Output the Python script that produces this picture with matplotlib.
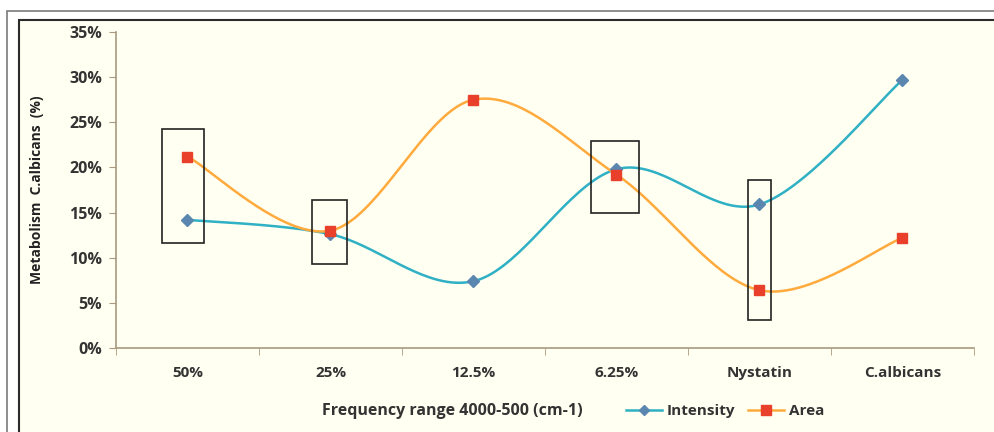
import numpy as np
import matplotlib
matplotlib.use("Agg")
import matplotlib.pyplot as plt
from matplotlib.patches import Rectangle
from matplotlib.lines import Line2D

categories = ["50%", "25%", "12.5%", "6.25%", "Nystatin", "C.albicans"]
intensity = [14.2, 12.6, 7.4, 19.8, 15.9, 29.7]
area = [21.2, 13.0, 27.5, 19.2, 6.4, 12.2]
y_ticks = [0, 5, 10, 15, 20, 25, 30, 35]

# highlight boxes: (category index, left offset, right offset, y-low, y-high)
boxes = [(0, -0.175, 0.112, 11.6, 24.3),
         (1, -0.126, 0.112, 9.3, 16.4),
         (3, -0.18, 0.16, 15.0, 22.9),
         (4, -0.077, 0.077, 3.1, 18.6)]


def smooth(xs, ys, n=40):
    xs = np.asarray(xs, float); ys = np.asarray(ys, float)
    px = np.concatenate([[xs[0]], xs, [xs[-1]]])
    py = np.concatenate([[ys[0]], ys, [ys[-1]]])
    ox, oy = [], []
    t = np.linspace(0, 1, n)
    for i in range(1, len(px) - 2):
        p0 = np.array([px[i], py[i]]); p3 = np.array([px[i + 1], py[i + 1]])
        c1 = p0 + (np.array([px[i + 1], py[i + 1]]) - np.array([px[i - 1], py[i - 1]])) / 6
        c2 = p3 - (np.array([px[i + 2], py[i + 2]]) - np.array([px[i], py[i]])) / 6
        b = ((1 - t) ** 3)[:, None] * p0 + (3 * (1 - t) ** 2 * t)[:, None] * c1 + \
            (3 * (1 - t) * t ** 2)[:, None] * c2 + (t ** 3)[:, None] * p3
        ox.extend(b[:, 0]); oy.extend(b[:, 1])
    return np.array(ox), np.array(oy)


fig = plt.figure(figsize=(9.95, 4.32), dpi=100)
fig.patch.set_facecolor("white")
W, H = 995, 432
# outer and inner frames
fig.add_artist(Rectangle((7 / W, -0.01), 1.0, (432 - 11) / H + 0.01, transform=fig.transFigure,
                         facecolor="white", edgecolor="#7a7a7a", lw=1.2, zorder=-2))
fig.add_artist(Rectangle((19 / W, -0.01), 1.0, (432 - 20) / H + 0.01, transform=fig.transFigure,
                         facecolor="#FFFFF2", edgecolor="#2b2b2b", lw=1.5, zorder=-1))

ax = fig.add_axes([116 / W, 1 - 348 / H, (974 - 116) / W, (348 - 32) / H])
ax.set_facecolor("none")
x = np.arange(len(categories))
spine_c = "#A89A80"

sx, sy = smooth(x, intensity)
ax.plot(sx, sy, color="#2FB0C4", lw=1.8, zorder=3)
ax.plot(x, intensity, ls="none", marker="D", ms=6, color="#5A86B0", zorder=4)
sx, sy = smooth(x, area)
ax.plot(sx, sy, color="#FFAA3C", lw=1.8, zorder=3)
ax.plot(x, area, ls="none", marker="s", ms=7.5, color="#E8402A", zorder=5)

for ci, dl, dr, yl, yh in boxes:
    ax.add_patch(Rectangle((ci + dl, yl), dr - dl, yh - yl, fill=False,
                           edgecolor="#222222", lw=1.2, zorder=6))

ax.set_xlim(-0.5, len(categories) - 0.5)
ax.set_ylim(0, 35)
ax.set_yticks(y_ticks)
ax.set_yticklabels([f"{v}%" for v in y_ticks])
ax.set_xticks(x)
ax.set_xticklabels(categories)
ax.set_xticks(np.arange(-0.5, len(categories)), minor=True)
ax.tick_params(axis="x", which="major", length=0, pad=13)
ax.tick_params(axis="x", which="minor", length=5, color=spine_c, direction="out")
ax.tick_params(axis="y", length=5, color=spine_c, direction="out", pad=5)
for lab in ax.get_xticklabels():
    lab.set_fontweight("bold"); lab.set_fontsize(11); lab.set_color("#333333")
    lab.set_family("Open Sans")
for lab in ax.get_yticklabels():
    lab.set_fontweight("bold"); lab.set_fontsize(11.5); lab.set_color("#333333")
    lab.set_family("Open Sans")
for s in ["top", "right"]:
    ax.spines[s].set_visible(False)
for s in ["left", "bottom"]:
    ax.spines[s].set_color(spine_c); ax.spines[s].set_linewidth(1.2)

fig.text(37 / W, 1 - 190 / H, "Metabolism  C.albicans  (%)", rotation=90, ha="center", va="center",
         fontsize=10, fontweight="bold", family="Open Sans", color="#222222")
fig.text(322 / W, 1 - 411 / H, "Frequency range 4000-500 (cm-1)", ha="left", va="center",
         fontsize=11.5, fontweight="bold", family="Open Sans", color="#333333")

handles = [Line2D([], [], color="#2FB0C4", lw=1.8, marker="D", ms=5, mfc="#5A86B0", mec="#5A86B0"),
           Line2D([], [], color="#FFAA3C", lw=1.8, marker="s", ms=7, mfc="#E8402A", mec="#E8402A")]
leg = fig.legend(handles, ["Intensity", "Area"], loc="center left", bbox_to_anchor=(612 / W, 1 - 411 / H),
                 ncol=2, frameon=False, handlelength=2.4, handletextpad=0.3, columnspacing=0.8,
                 prop={"family": "Open Sans", "weight": "bold", "size": 11})
for t in leg.get_texts():
    t.set_color("#333333")

fig.savefig("out.png", dpi=100)
